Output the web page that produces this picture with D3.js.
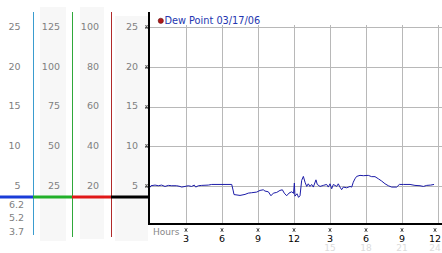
<!DOCTYPE html>
<html><head><meta charset="utf-8">
<script src="https://cdn.jsdelivr.net/npm/d3@7"></script>
<style>
html,body{margin:0;padding:0;background:#fff;}
svg{display:block;font-family:"DejaVu Sans",Verdana,sans-serif;}
</style></head>
<body>
<script>
// ---- data ----
const hours = [0.00,0.08,0.42,0.69,0.97,1.25,1.53,1.81,2.22,2.50,2.64,2.92,3.19,3.47,3.69,3.81,4.03,4.31,4.86,5.14,6.81,6.94,7.00,7.50,7.92,8.19,8.47,8.89,9.17,9.44,9.58,9.86,10.08,10.28,10.56,10.83,11.03,11.19,11.39,11.58,11.81,11.96,12.03,12.08,12.25,12.38,12.50,12.64,12.78,12.92,13.06,13.19,13.33,13.47,13.61,13.83,13.94,14.17,14.44,14.72,14.86,15.00,15.14,15.28,15.56,15.69,15.83,15.97,16.11,16.39,16.67,16.81,16.94,17.08,17.22,17.50,17.78,18.19,18.47,18.75,19.03,19.31,19.58,19.86,20.14,20.56,20.78,21.11,21.67,22.08,22.50,22.78,23.06,23.39,23.67];
const dewPoint = [4.85,5.06,5.14,5.06,5.14,4.97,5.10,5.06,5.06,4.97,4.89,4.97,5.06,4.97,5.14,4.89,5.06,5.10,5.14,5.22,5.22,4.40,3.95,3.84,3.97,4.13,4.18,4.26,4.47,4.55,4.39,4.30,3.80,4.13,4.22,4.47,4.55,4.13,3.80,4.13,4.30,4.10,5.40,3.75,4.05,3.60,3.80,5.73,6.23,5.50,4.97,5.30,4.97,5.22,4.89,5.80,5.22,4.97,5.10,5.22,4.89,5.30,4.68,5.22,4.97,5.30,4.89,4.56,4.89,4.80,4.97,4.89,5.50,5.93,6.23,6.36,6.32,6.36,6.20,6.20,5.93,5.64,5.31,5.06,4.89,4.89,5.22,5.22,5.22,5.10,5.06,4.97,5.10,5.14,5.22];
const mainTicks = [25,20,15,10,5];
const col1Labels = ["25","20","15","10","5"];
const col2Labels = ["125","100","75","50","25"];
const col3Labels = ["100","80","60","40","20"];
const col4Labels = ["25","20","15","10","5"];
const lowLabels = ["6.2","5.2","3.7"];
const hourTicks = [3,6,9,12,15,18,21,24];
const hourLabels = ["3","6","9","12","3","6","9","12"];
const faintTicks = [15,18,21,24];
const faintLabels = ["15","18","21","24"];
const legendText = "Dew Point 03/17/06";

// ---- layout ----
const W = 442, H = 253;
const svg = d3.select("body").append("svg").attr("width", W).attr("height", H);
const x = d3.scaleLinear().domain([0,24]).range([150,438]);
const y = d3.scaleLinear().domain([0,25]).range([226,27]);
const px = v => Math.round(v) + 0.5;
const labX = v => Math.min(x(v), 435);

// gray panels
[[40,7,26,234],[80,7,24,232],[115,16,33,225]].forEach(r=>{
  svg.append("rect").attr("x",r[0]).attr("y",r[1]).attr("width",r[2]).attr("height",r[3]).attr("fill","#f7f7f7");
});

// left colored vertical lines
[[33.5,"#3a9ccf",235],[72.5,"#2fa83a",237],[111.5,"#b02a2a",237]].forEach(d=>{
  svg.append("line").attr("x1",d[0]).attr("x2",d[0]).attr("y1",12).attr("y2",d[2]).attr("stroke",d[1]).attr("stroke-width",1);
});

// baseline segments
[[0,33,"#1a3cd8"],[33,72,"#22b02a"],[72,111,"#e01818"],[111,149,"#000"]].forEach(d=>{
  svg.append("line").attr("x1",d[0]).attr("x2",d[1]).attr("y1",197).attr("y2",197).attr("stroke",d[2]).attr("stroke-width",3);
});

// left labels
const labStyle = s => s.attr("font-size","9.5px").attr("fill","#808080").attr("text-anchor","end").attr("dy","0.35em");
[[col1Labels,20.5],[col2Labels,60],[col3Labels,99],[col4Labels,138]].forEach(([labs,xe])=>{
  svg.append("g").selectAll("text").data(labs).join("text")
    .attr("x",xe).attr("y",(d,i)=>y(mainTicks[i])-0.5).text(d=>d).call(labStyle);
});
const lowY = [204.5,217.5,231.5];
svg.append("g").selectAll("text").data(lowLabels).join("text")
  .attr("x",24).attr("y",(d,i)=>lowY[i]).text(d=>d).call(labStyle);

// grid
const grid = svg.append("g").attr("stroke","#b8b8b8").attr("stroke-width",1);
grid.selectAll("line.h").data(mainTicks).join("line").attr("class","h")
  .attr("x1",150).attr("x2",442).attr("y1",d=>px(y(d))).attr("y2",d=>px(y(d)));
grid.selectAll("line.v").data(hourTicks).join("line").attr("class","v")
  .attr("x1",d=>px(x(d))).attr("x2",d=>px(x(d))).attr("y1",25).attr("y2",223);

// axes
svg.append("line").attr("x1",149).attr("x2",149).attr("y1",12).attr("y2",225).attr("stroke","#000").attr("stroke-width",2);
svg.append("line").attr("x1",148).attr("x2",442).attr("y1",224).attr("y2",224).attr("stroke","#000").attr("stroke-width",2);

// tick glyphs on y axis
svg.append("g").selectAll("path").data(mainTicks).join("path")
  .attr("d",d=>{const yy=Math.round(y(d));return `M145.5,${yy-2}L147.5,${yy+2}M147.5,${yy-2}L145.5,${yy+2}M145,${yy+0.5}L148,${yy+0.5}`;})
  .attr("stroke","#444").attr("stroke-width",0.8).attr("fill","none");
// tick glyphs on x axis
svg.append("g").selectAll("path").data(hourTicks).join("path")
  .attr("d",d=>{const xx=Math.round(labX(d));return `M${xx-1.5},228.5L${xx+1.5},231.5M${xx+1.5},228.5L${xx-1.5},231.5M${xx},228L${xx},232`;})
  .attr("stroke","#444").attr("stroke-width",0.8).attr("fill","none");

// hour labels
svg.append("text").attr("x",153).attr("y",234.5).attr("font-size","9px").attr("fill","#888").text("Hours");
svg.append("g").selectAll("text").data(hourLabels).join("text")
  .attr("x",(d,i)=>labX(hourTicks[i])).attr("y",241.5).attr("text-anchor","middle")
  .attr("font-size","9.5px").attr("fill","#000").text(d=>d);
svg.append("g").selectAll("text").data(faintLabels).join("text")
  .attr("x",(d,i)=>labX(faintTicks[i])).attr("y",251).attr("text-anchor","middle")
  .attr("font-size","9px").attr("fill","#dcdcdc").text(d=>d);

// data line
const line = d3.line().x((d,i)=>x(hours[i])).y(d=>y(d));
svg.append("path").datum(dewPoint).attr("d",line).attr("fill","none")
  .attr("stroke","#1c1ca8").attr("stroke-width",1);

// legend
svg.append("circle").attr("cx",160.8).attr("cy",20.8).attr("r",2.6).attr("fill","#b01818").attr("stroke","#601010").attr("stroke-width",0.6);
svg.append("text").attr("x",164.5).attr("y",24.3).attr("font-size","9.75px").attr("fill","#2436b0").text(legendText);
</script>
</body></html>
